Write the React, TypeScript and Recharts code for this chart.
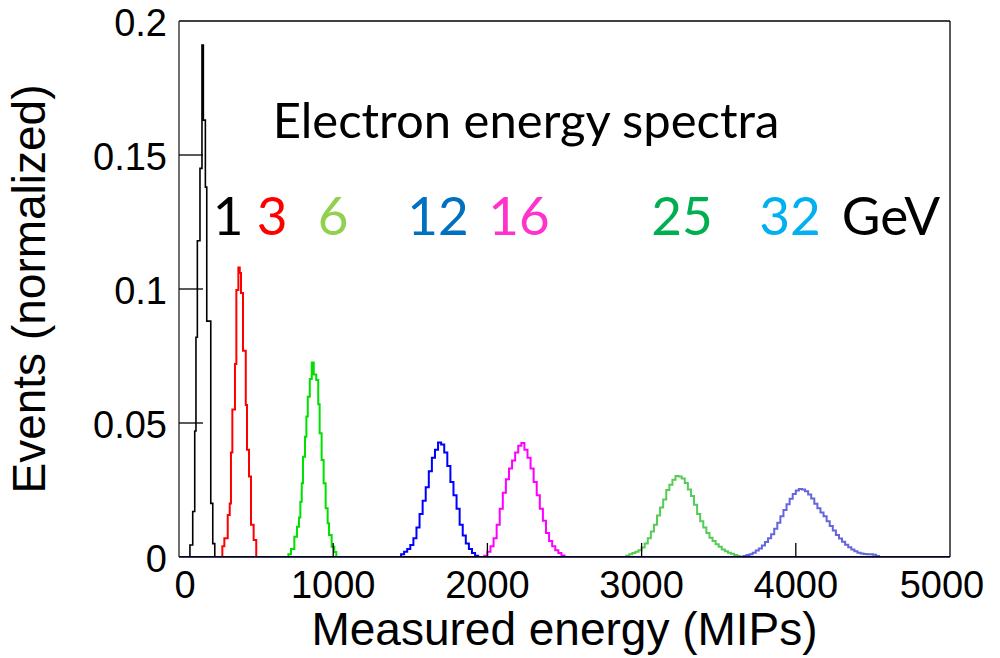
import React from 'react';
import { LineChart, Line, XAxis, YAxis, ReferenceLine } from 'recharts';

const xTicks = [0, 1000, 2000, 3000, 4000, 5000];
const yTicks = [0, 0.05, 0.1, 0.15, 0.2];
const yTickLabels: Record<string, string> = { '0': '0', '0.05': '0.05', '0.1': '0.1', '0.15': '0.15', '0.2': '0.2' };

// 1 GeV (black) bin edges and contents
const e1Edges = [71, 89, 102, 110, 119, 136, 149, 158, 171, 180, 206, 219, 232];
const e1Vals = [0.0045, 0.017, 0.047, 0.082, 0.118, 0.145, 0.191, 0.163, 0.138, 0.088, 0.02, 0.005, 0];

// 3 GeV (red)
const e3Edges = [281, 294, 316, 329, 337, 346, 363, 372, 385, 394, 402, 415, 433, 441, 454, 467, 484, 501];
const e3Vals = [0.004, 0.007, 0.0157, 0.02, 0.039, 0.055, 0.072, 0.0996, 0.108, 0.106, 0.0985, 0.077, 0.0567, 0.04, 0.03, 0.012, 0.0063, 0];

// 6 GeV (green)
const e6Edges = [709, 726, 748, 765, 778, 787, 796, 804, 817, 826, 835, 848, 861, 874, 890, 903, 912, 925, 938, 951, 964, 973, 990, 1007, 1020];
const e6Vals = [0.001, 0.003, 0.0076, 0.0113, 0.0147, 0.0206, 0.0275, 0.0374, 0.0449, 0.0524, 0.0598, 0.0664, 0.0726, 0.0681, 0.066, 0.057, 0.0462, 0.0362, 0.0275, 0.0182, 0.0126, 0.0082, 0.0038, 0.0019, 0];

// broad peaks: 20-MIP bins
const BIN = 20;
const e12Start = 1440;
const e12Vals = [0.001, 0.002, 0.003, 0.0045, 0.007, 0.011, 0.016, 0.021, 0.026, 0.032, 0.037, 0.04, 0.0427, 0.042, 0.039, 0.034, 0.028, 0.023, 0.018, 0.012, 0.008, 0.005, 0.003, 0.0015, 0.0005, 0];

const e16Start = 1980;
const e16Vals = [0.0005, 0.002, 0.004, 0.007, 0.012, 0.018, 0.024, 0.029, 0.033, 0.036, 0.039, 0.0415, 0.0425, 0.04, 0.037, 0.033, 0.028, 0.023, 0.018, 0.0135, 0.009, 0.006, 0.004, 0.0025, 0.0015, 0.0006, 0];

const e25Start = 2900;
const e25Vals = [0.0005, 0.001, 0.0015, 0.002, 0.0025, 0.0035, 0.005, 0.007, 0.0095, 0.012, 0.0155, 0.0185, 0.0215, 0.025, 0.027, 0.0288, 0.0302, 0.03, 0.0293, 0.0276, 0.0252, 0.0228, 0.0195, 0.016, 0.0133, 0.011, 0.009, 0.0072, 0.006, 0.0048, 0.0038, 0.0028, 0.0021, 0.0016, 0.0012, 0.0007, 0.0004, 0];

const e32Start = 3660;
const e32Vals = [0.0004, 0.0007, 0.001, 0.0016, 0.0024, 0.0032, 0.0043, 0.0056, 0.007, 0.0085, 0.0105, 0.0128, 0.0152, 0.0175, 0.0197, 0.0217, 0.0235, 0.0248, 0.0254, 0.0252, 0.0245, 0.0233, 0.0218, 0.0199, 0.0182, 0.0166, 0.0152, 0.0133, 0.0116, 0.0099, 0.0082, 0.0069, 0.0057, 0.0046, 0.0036, 0.0028, 0.0021, 0.0016, 0.0013, 0.0011, 0.001, 0.001, 0.0008, 0.0004, 0];

const energyLabels = ['1', '3', '6', '12', '16', '25', '32', 'GeV'];
const energyColors = ['#000000', '#ff0000', '#92d050', '#0070c0', '#ff33cc', '#00b050', '#00b0f0', '#000000'];
const energyCenters = [228, 272, 333, 438, 519, 682, 790, 891];

const hist = (edges: number[], vals: number[]) => [
  { x: 0, v: 0 },
  ...edges.map((x, i) => ({ x, v: vals[i] })),
  { x: 5000, v: 0 },
];
const uniformEdges = (start: number, n: number) => Array.from({ length: n }, (_, i) => start + i * BIN);

const d1 = hist(e1Edges, e1Vals);
const d3 = hist(e3Edges, e3Vals);
const d6 = hist(e6Edges, e6Vals);
const d12 = hist(uniformEdges(e12Start, e12Vals.length), e12Vals);
const d16 = hist(uniformEdges(e16Start, e16Vals.length), e16Vals);
const d25 = hist(uniformEdges(e25Start, e25Vals.length), e25Vals);
const d32 = hist(uniformEdges(e32Start, e32Vals.length), e32Vals);

const AX_FONT = "'Liberation Sans', Arial, sans-serif";

const XTick = (props: any) => {
  const { x, y, payload } = props;
  const v = payload.value;
  const inner = v > 0 && v < 5000;
  return (
    <g>
      {inner && <line x1={x} y1={y} x2={x} y2={y - 14} stroke="#000" strokeWidth={1.3} />}
      <text x={v === 0 ? x + 6 : v === 5000 ? x - 8 : x} y={y + 41} textAnchor="middle" fontFamily={AX_FONT} fontSize={38} fill="#000">
        {v}
      </text>
    </g>
  );
};

const YTick = (props: any) => {
  const { x, y, payload } = props;
  const v = payload.value;
  const inner = v > 0 && v < 0.2;
  return (
    <g>
      {inner && <line x1={x} y1={y} x2={x + 24} y2={y} stroke="#000" strokeWidth={1.3} />}
      <text x={x - 12} y={y + 2} dy="0.35em" textAnchor="end" fontFamily={AX_FONT} fontSize={38} fill="#000">
        {yTickLabels[String(v)]}
      </text>
    </g>
  );
};

const XTitle = (props: any) => {
  const vb = props.viewBox || {};
  return (
    <text x={vb.x + vb.width / 2} y={645} textAnchor="middle" fontFamily={AX_FONT} fontSize={46} fill="#000">
      Measured energy (MIPs)
    </text>
  );
};

const YTitle = (props: any) => {
  const vb = props.viewBox || {};
  const cy = vb.y + vb.height / 2;
  return (
    <text x={45} y={cy} transform={`rotate(-90, 45, ${cy})`} textAnchor="middle" fontFamily={AX_FONT} fontSize={46} fill="#000">
      Events (normalized)
    </text>
  );
};

const series = [
  { data: d32, color: '#6565dc', w: 2 },
  { data: d25, color: '#55cc55', w: 2 },
  { data: d16, color: '#ff00ff', w: 2 },
  { data: d6, color: '#00e000', w: 2 },
  { data: d3, color: '#ff0000', w: 2 },
  { data: d1, color: '#000000', w: 1.6 },
  { data: d12, color: '#0000ff', w: 2 },
];

export default function App() {
  return (
    <div style={{ position: 'absolute', left: 0, top: 0, width: 1000, height: 658, background: '#fff' }}>
      <LineChart width={1000} height={658} margin={{ top: 21, right: 50, left: 79, bottom: 0 }}>
        <XAxis
          dataKey="x"
          type="number"
          domain={[0, 5000]}
          ticks={xTicks}
          allowDataOverflow
          height={101}
          tickSize={0}
          tickMargin={0}
          tickLine={false}
          axisLine={{ stroke: '#000', strokeWidth: 1.3 }}
          tick={<XTick />}
          interval={0}
          label={<XTitle />}
        />
        <YAxis
          type="number"
          domain={[0, 0.2]}
          ticks={yTicks}
          allowDataOverflow
          width={100}
          tickSize={0}
          tickMargin={0}
          tickLine={false}
          axisLine={{ stroke: '#222', strokeWidth: 1.3 }}
          tick={<YTick />}
          interval={0}
          label={<YTitle />}
        />
        <ReferenceLine y={0.2} stroke="#000" strokeWidth={1.3} />
        <ReferenceLine x={5000} stroke="#000" strokeWidth={1.3} />
        {series.map((s, i) => (
          <Line
            key={i}
            data={s.data}
            dataKey="v"
            type="stepAfter"
            stroke={s.color}
            strokeWidth={s.w}
            dot={false}
            activeDot={false}
            isAnimationActive={false}
          />
        ))}
      </LineChart>
      <svg width={1000} height={658} style={{ position: 'absolute', left: 0, top: 0, pointerEvents: 'none' }}>
        <text x={526} y={138} textAnchor="middle" fontFamily="Lato, 'Noto Sans', sans-serif" fontSize={49} fill="#000">
          Electron energy spectra
        </text>
        {energyLabels.map((t, i) => (
          <text key={t} x={energyCenters[i]} y={235} textAnchor="middle" fontFamily="Lato, 'Noto Sans', sans-serif" fontSize={53} fill={energyColors[i]}>
            {t}
          </text>
        ))}
      </svg>
    </div>
  );
}
